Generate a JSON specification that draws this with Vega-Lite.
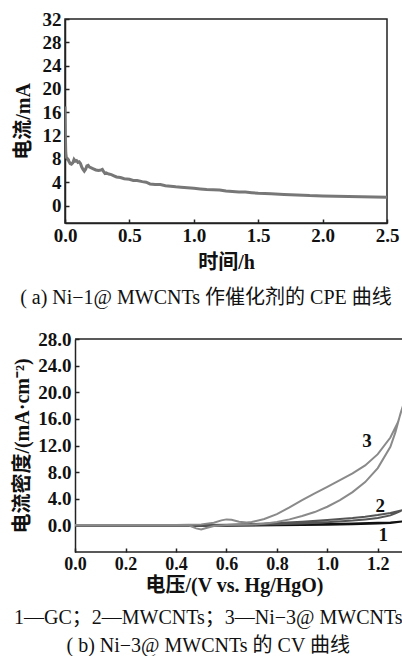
{
  "$schema": "https://vega.github.io/schema/vega-lite/v6.json",
  "padding": {"left": 12, "top": 9, "right": 0, "bottom": 0},
  "autosize": {"type": "pad"},
  "spacing": 21,
  "config": {
    "view": {"stroke": "#222", "strokeWidth": 1.5},
    "font": "'Liberation Serif', 'Noto Sans CJK SC'",
    "axis": {"grid": false, "domainColor": "#222", "domainWidth": 1.5, "tickColor": "#222", "tickWidth": 1.5, "tickSize": -4, "labelFont": "Liberation Serif", "labelFontWeight": "bold", "labelFontSize": 19, "labelColor": "#111", "titleFont": "'Liberation Serif', 'Noto Sans CJK SC'", "titleFontWeight": "bold", "titleFontSize": 20, "titleColor": "#111", "labelPadding": 8, "labelOverlap": false, "labelFlush": false},
    "axisX": {"labelPadding": 7},
    "title": {"font": "'Liberation Serif', 'Noto Sans CJK SC'", "fontSize": 20, "fontWeight": "normal", "color": "#111", "orient": "bottom", "anchor": "middle", "frame": "bounds"}
  },
  "vconcat": [
    {
      "width": 322,
      "height": 204,
      "title": {"text": "( a) Ni−1@ MWCNTs 作催化剂的 CPE 曲线", "offset": 16},
      "data": {"values": [
        {"t": 0, "i": 17}, {"t": 0.003, "i": 12}, {"t": 0.006, "i": 9}, {"t": 0.01, "i": 8.3}, {"t": 0.02, "i": 8.0}, {"t": 0.03, "i": 7.6}, {"t": 0.04, "i": 7.2}, {"t": 0.05, "i": 7.1}, {"t": 0.06, "i": 7.3}, {"t": 0.07, "i": 7.9}, {"t": 0.08, "i": 7.6}, {"t": 0.09, "i": 7.7}, {"t": 0.1, "i": 7.4}, {"t": 0.11, "i": 7.5}, {"t": 0.12, "i": 7.2}, {"t": 0.13, "i": 6.6}, {"t": 0.14, "i": 6.2}, {"t": 0.15, "i": 5.9}, {"t": 0.16, "i": 6.2}, {"t": 0.17, "i": 6.8}, {"t": 0.18, "i": 6.9}, {"t": 0.19, "i": 6.6}, {"t": 0.2, "i": 6.5}, {"t": 0.22, "i": 6.3}, {"t": 0.24, "i": 6.1}, {"t": 0.26, "i": 6.0}, {"t": 0.28, "i": 6.1}, {"t": 0.29, "i": 6.2}, {"t": 0.3, "i": 5.8}, {"t": 0.31, "i": 5.5}, {"t": 0.32, "i": 5.6}, {"t": 0.34, "i": 5.4}, {"t": 0.36, "i": 5.3}, {"t": 0.38, "i": 5.1}, {"t": 0.4, "i": 4.9}, {"t": 0.43, "i": 4.8}, {"t": 0.46, "i": 4.6}, {"t": 0.5, "i": 4.5}, {"t": 0.53, "i": 4.3}, {"t": 0.56, "i": 4.3}, {"t": 0.6, "i": 4.1}, {"t": 0.63, "i": 4.0}, {"t": 0.66, "i": 3.7}, {"t": 0.7, "i": 3.6}, {"t": 0.74, "i": 3.6}, {"t": 0.78, "i": 3.4}, {"t": 0.82, "i": 3.3}, {"t": 0.86, "i": 3.2}, {"t": 0.9, "i": 3.15}, {"t": 0.95, "i": 3.05}, {"t": 1.0, "i": 2.95}, {"t": 1.05, "i": 2.85}, {"t": 1.1, "i": 2.75}, {"t": 1.15, "i": 2.7}, {"t": 1.2, "i": 2.65}, {"t": 1.25, "i": 2.5}, {"t": 1.3, "i": 2.4}, {"t": 1.35, "i": 2.3}, {"t": 1.4, "i": 2.3}, {"t": 1.45, "i": 2.2}, {"t": 1.5, "i": 2.1}, {"t": 1.6, "i": 2.0}, {"t": 1.7, "i": 1.9}, {"t": 1.8, "i": 1.8}, {"t": 1.9, "i": 1.7}, {"t": 2.0, "i": 1.65}, {"t": 2.1, "i": 1.6}, {"t": 2.2, "i": 1.55}, {"t": 2.3, "i": 1.5}, {"t": 2.4, "i": 1.45}, {"t": 2.5, "i": 1.4}
      ]},
      "mark": {"type": "line", "color": "#777", "strokeWidth": 3, "clip": true},
      "encoding": {
        "x": {"field": "t", "type": "quantitative", "scale": {"domain": [0, 2.5], "nice": false}, "axis": {"values": [0, 0.5, 1, 1.5, 2, 2.5], "tickCount": 20, "format": ".1f", "title": "时间/h", "titlePadding": 7}},
        "y": {"field": "i", "type": "quantitative", "scale": {"domain": [-3, 32], "nice": false}, "axis": {"values": [0, 4, 8, 12, 16, 20, 24, 28, 32], "tickCount": 20, "title": "电流/mA", "titlePadding": 9}}
      }
    },
    {
      "width": 338,
      "height": 213,
      "view": {"stroke": null},
      "title": {"text": ["1—GC；2—MWCNTs；3—Ni−3@ MWCNTs", "( b) Ni−3@ MWCNTs 的 CV 曲线"], "lineHeight": 28, "offset": 13},
      "layer": [
        {
          "data": {"values": [
            {"s": "1", "o": 1, "v": 0, "i": 0}, {"s": "1", "o": 2, "v": 0.3, "i": 0}, {"s": "1", "o": 3, "v": 0.5, "i": 0}, {"s": "1", "o": 4, "v": 0.6, "i": 0.02}, {"s": "1", "o": 5, "v": 0.7, "i": 0.05}, {"s": "1", "o": 6, "v": 0.8, "i": 0.1}, {"s": "1", "o": 7, "v": 0.9, "i": 0.15}, {"s": "1", "o": 8, "v": 1.0, "i": 0.2}, {"s": "1", "o": 9, "v": 1.1, "i": 0.28}, {"s": "1", "o": 10, "v": 1.2, "i": 0.38}, {"s": "1", "o": 11, "v": 1.25, "i": 0.45}, {"s": "1", "o": 12, "v": 1.3, "i": 0.6}, {"s": "1", "o": 13, "v": 1.25, "i": 0.35}, {"s": "1", "o": 14, "v": 1.2, "i": 0.28}, {"s": "1", "o": 15, "v": 1.1, "i": 0.18}, {"s": "1", "o": 16, "v": 1.0, "i": 0.1}, {"s": "1", "o": 17, "v": 0.9, "i": 0.05}, {"s": "1", "o": 18, "v": 0.8, "i": 0}, {"s": "1", "o": 19, "v": 0.6, "i": -0.05}, {"s": "1", "o": 20, "v": 0.45, "i": -0.05}, {"s": "1", "o": 21, "v": 0.2, "i": -0.05}, {"s": "1", "o": 22, "v": 0, "i": -0.05},
            {"s": "2", "o": 1, "v": 0, "i": 0}, {"s": "2", "o": 2, "v": 0.45, "i": 0}, {"s": "2", "o": 3, "v": 0.5, "i": 0.05}, {"s": "2", "o": 4, "v": 0.6, "i": 0.1}, {"s": "2", "o": 5, "v": 0.7, "i": 0.2}, {"s": "2", "o": 6, "v": 0.8, "i": 0.35}, {"s": "2", "o": 7, "v": 0.9, "i": 0.55}, {"s": "2", "o": 8, "v": 1.0, "i": 0.8}, {"s": "2", "o": 9, "v": 1.1, "i": 1.1}, {"s": "2", "o": 10, "v": 1.15, "i": 1.3}, {"s": "2", "o": 11, "v": 1.2, "i": 1.55}, {"s": "2", "o": 12, "v": 1.25, "i": 1.85}, {"s": "2", "o": 13, "v": 1.3, "i": 2.3}, {"s": "2", "o": 14, "v": 1.27, "i": 1.8}, {"s": "2", "o": 15, "v": 1.25, "i": 1.5}, {"s": "2", "o": 16, "v": 1.2, "i": 1.1}, {"s": "2", "o": 17, "v": 1.15, "i": 0.9}, {"s": "2", "o": 18, "v": 1.1, "i": 0.72}, {"s": "2", "o": 19, "v": 1.0, "i": 0.48}, {"s": "2", "o": 20, "v": 0.9, "i": 0.3}, {"s": "2", "o": 21, "v": 0.8, "i": 0.18}, {"s": "2", "o": 22, "v": 0.7, "i": 0.08}, {"s": "2", "o": 23, "v": 0.6, "i": 0.02}, {"s": "2", "o": 24, "v": 0.5, "i": -0.05}, {"s": "2", "o": 25, "v": 0.45, "i": 0}, {"s": "2", "o": 26, "v": 0.3, "i": 0}, {"s": "2", "o": 27, "v": 0, "i": 0},
            {"s": "3", "o": 1, "v": 0, "i": 0.05}, {"s": "3", "o": 2, "v": 0.2, "i": 0.05}, {"s": "3", "o": 3, "v": 0.4, "i": 0.05}, {"s": "3", "o": 4, "v": 0.45, "i": 0.08}, {"s": "3", "o": 5, "v": 0.5, "i": 0.15}, {"s": "3", "o": 6, "v": 0.55, "i": 0.4}, {"s": "3", "o": 7, "v": 0.58, "i": 0.75}, {"s": "3", "o": 8, "v": 0.6, "i": 0.9}, {"s": "3", "o": 9, "v": 0.62, "i": 0.85}, {"s": "3", "o": 10, "v": 0.65, "i": 0.55}, {"s": "3", "o": 11, "v": 0.68, "i": 0.45}, {"s": "3", "o": 12, "v": 0.7, "i": 0.5}, {"s": "3", "o": 13, "v": 0.75, "i": 0.95}, {"s": "3", "o": 14, "v": 0.8, "i": 1.7}, {"s": "3", "o": 15, "v": 0.85, "i": 2.7}, {"s": "3", "o": 16, "v": 0.9, "i": 3.8}, {"s": "3", "o": 17, "v": 0.95, "i": 4.8}, {"s": "3", "o": 18, "v": 1.0, "i": 5.8}, {"s": "3", "o": 19, "v": 1.05, "i": 6.8}, {"s": "3", "o": 20, "v": 1.1, "i": 7.8}, {"s": "3", "o": 21, "v": 1.15, "i": 9.0}, {"s": "3", "o": 22, "v": 1.2, "i": 10.7}, {"s": "3", "o": 23, "v": 1.25, "i": 13.2}, {"s": "3", "o": 24, "v": 1.28, "i": 15.5}, {"s": "3", "o": 25, "v": 1.3, "i": 18.0}, {"s": "3", "o": 26, "v": 1.29, "i": 16.8}, {"s": "3", "o": 27, "v": 1.27, "i": 14.0}, {"s": "3", "o": 28, "v": 1.25, "i": 11.8}, {"s": "3", "o": 29, "v": 1.2, "i": 8.6}, {"s": "3", "o": 30, "v": 1.15, "i": 6.5}, {"s": "3", "o": 31, "v": 1.1, "i": 5.0}, {"s": "3", "o": 32, "v": 1.05, "i": 3.8}, {"s": "3", "o": 33, "v": 1.0, "i": 2.8}, {"s": "3", "o": 34, "v": 0.95, "i": 2.0}, {"s": "3", "o": 35, "v": 0.9, "i": 1.4}, {"s": "3", "o": 36, "v": 0.85, "i": 0.9}, {"s": "3", "o": 37, "v": 0.8, "i": 0.5}, {"s": "3", "o": 38, "v": 0.75, "i": 0.25}, {"s": "3", "o": 39, "v": 0.7, "i": 0.12}, {"s": "3", "o": 40, "v": 0.65, "i": 0.08}, {"s": "3", "o": 41, "v": 0.6, "i": 0.05}, {"s": "3", "o": 42, "v": 0.55, "i": -0.1}, {"s": "3", "o": 43, "v": 0.52, "i": -0.4}, {"s": "3", "o": 44, "v": 0.5, "i": -0.6}, {"s": "3", "o": 45, "v": 0.48, "i": -0.45}, {"s": "3", "o": 46, "v": 0.46, "i": -0.15}, {"s": "3", "o": 47, "v": 0.45, "i": 0}, {"s": "3", "o": 48, "v": 0.3, "i": 0}, {"s": "3", "o": 49, "v": 0, "i": 0}
          ]},
          "mark": {"type": "line", "strokeWidth": 2, "clip": true},
          "encoding": {
            "x": {"field": "v", "type": "quantitative", "scale": {"domain": [-0.04, 1.3], "nice": false}, "axis": {"values": [0, 0.2, 0.4, 0.6, 0.8, 1.0, 1.2], "tickCount": 20, "format": ".1f", "title": "电压/(V vs. Hg/HgO)", "titlePadding": 2, "labelFontSize": 18, "domain": false}},
            "y": {"field": "i", "type": "quantitative", "scale": {"domain": [-4, 28], "nice": false}, "axis": {"values": [0, 4, 8, 12, 16, 20, 24, 28], "tickCount": 20, "format": ".1f", "title": "电流密度/(mA·cm⁻²)", "titlePadding": 5, "offset": -10}},
            "color": {"field": "s", "type": "nominal", "scale": {"domain": ["1", "2", "3"], "range": ["#111111", "#555555", "#8a8a8a"]}, "legend": null},
            "order": {"field": "o", "type": "quantitative"}
          }
        },
        {
          "data": {"values": [{"x0": 0, "x1": 1.3, "y": 28}, {"x0": 0, "x1": 1.3, "y": -4}]},
          "mark": {"type": "rule", "color": "#222", "strokeWidth": 1.5},
          "encoding": {
            "x": {"field": "x0", "type": "quantitative"},
            "x2": {"field": "x1"},
            "y": {"field": "y", "type": "quantitative"}
          }
        },
        {
          "data": {"values": [{"v": 1.157, "i": 12.7, "lab": "3"}, {"v": 1.21, "i": 2.9, "lab": "2"}, {"v": 1.222, "i": -1.5, "lab": "1"}]},
          "mark": {"type": "text", "font": "Liberation Serif", "fontSize": 19, "fontWeight": "bold", "color": "#111"},
          "encoding": {
            "x": {"field": "v", "type": "quantitative"},
            "y": {"field": "i", "type": "quantitative"},
            "text": {"field": "lab"}
          }
        }
      ]
    }
  ]
}
